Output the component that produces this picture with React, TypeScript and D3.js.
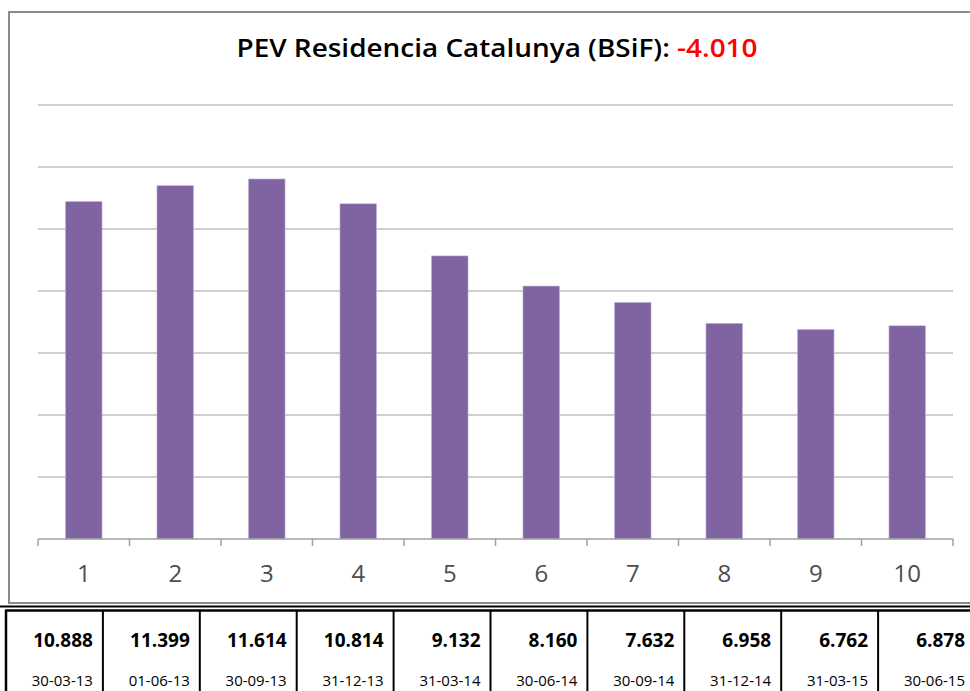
import React from "react";
import * as d3 from "d3";

const categories = ["1", "2", "3", "4", "5", "6", "7", "8", "9", "10"];
const values = [10.888, 11.399, 11.614, 10.814, 9.132, 8.16, 7.632, 6.958, 6.762, 6.878];
const valueLabels = ["10.888", "11.399", "11.614", "10.814", "9.132", "8.160", "7.632", "6.958", "6.762", "6.878"];
const dates = ["30-03-13", "01-06-13", "30-09-13", "31-12-13", "31-03-14", "30-06-14", "30-09-14", "31-12-14", "31-03-15", "30-06-15"];
const yTicks = [0, 2, 4, 6, 8, 10, 12, 14];
const titleText = "PEV Residencia Catalunya (BSiF): ";
const titleValue = "-4.010";

const W = 970;
const H = 691;
const FONT = "'Open Sans', 'Noto Sans', sans-serif";

export default function App() {
  const x = d3.scaleBand<string>().domain(categories).range([38, 953]).padding(0);
  const y = d3.scaleLinear().domain([0, 14]).range([539, 105]);
  const barW = x.bandwidth() / 2.5;
  const tx = d3.scaleBand<string>().domain(categories).range([6, 975]).padding(0);

  return (
    <svg
      width={W}
      height={H}
      style={{ position: "absolute", left: 0, top: 0, background: "#fff" }}
      fontFamily={FONT}
    >
      <rect x={0} y={0} width={W} height={H} fill="#fff" />
      {/* chart frame */}
      <rect x={9} y={12} width={975} height={591} fill="#fff" stroke="#8a8a8a" strokeWidth={2} />
      {/* title */}
      <text x={497} y={57} textAnchor="middle" fontSize={26} fontWeight={600} fill="#000" textLength={521} lengthAdjust="spacingAndGlyphs">
        <tspan>{titleText}</tspan>
        <tspan fill="#ff0000">{titleValue}</tspan>
      </text>
      {/* gridlines */}
      {yTicks.filter((t) => t > 0).map((t) => (
        <line key={t} x1={38} x2={953} y1={y(t)} y2={y(t)} stroke="#a0a0a0" strokeWidth={1.2} />
      ))}
      {/* bars */}
      {values.map((v, i) => {
        const cx = (x(categories[i]) as number) + x.bandwidth() / 2;
        return (
          <rect
            key={i}
            x={cx - barW / 2}
            y={y(v)}
            width={barW}
            height={y(0) - y(v)}
            fill="#8064a2"
            stroke="#c9b8dd"
            strokeWidth={0.6}
          />
        );
      })}
      {/* x axis */}
      <line x1={38} x2={953} y1={y(0)} y2={y(0)} stroke="#a0a0a0" strokeWidth={1.5} />
      {categories.map((c) => (
        <line key={c} x1={x(c)} x2={x(c)} y1={y(0)} y2={y(0) + 7} stroke="#a0a0a0" strokeWidth={1.5} />
      ))}
      <line x1={953} x2={953} y1={y(0)} y2={y(0) + 7} stroke="#a0a0a0" strokeWidth={1.5} />
      {categories.map((c) => (
        <text
          key={c}
          x={(x(c) as number) + x.bandwidth() / 2}
          y={582}
          textAnchor="middle"
          fontSize={24}
          fill="#4d4d4d"
        >
          {c}
        </text>
      ))}
      {/* table */}
      <line x1={0} x2={W} y1={606.5} y2={606.5} stroke="#000" strokeWidth={2} />
      <line x1={5} x2={W} y1={610.5} y2={610.5} stroke="#000" strokeWidth={2.5} />
      {categories.map((c, i) => (
        <line key={c} x1={tx(c)} x2={tx(c)} y1={610} y2={H} stroke="#000" strokeWidth={i === 0 ? 2.5 : 2} />
      ))}
      {categories.map((c, i) => {
        const right = (tx(c) as number) + tx.bandwidth() - 10;
        return (
          <g key={c}>
            <text x={right} y={647} textAnchor="end" fontSize={19} fontWeight={700} fill="#000">
              {valueLabels[i]}
            </text>
            <text x={right} y={686} textAnchor="end" fontSize={15} fill="#000">
              {dates[i]}
            </text>
          </g>
        );
      })}
    </svg>
  );
}
